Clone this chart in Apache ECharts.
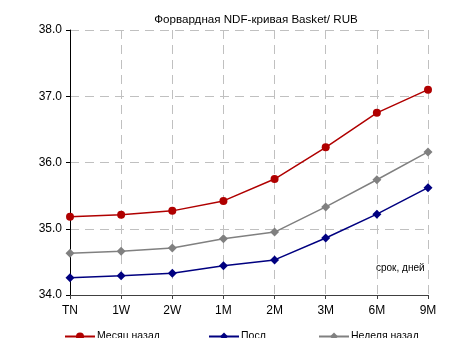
<!DOCTYPE html>
<html>
<head>
<meta charset="utf-8">
<script src="https://cdn.jsdelivr.net/npm/echarts@6/dist/echarts.min.js"></script>
<style>
  html, body { margin: 0; padding: 0; background: #fff; }
  #chart { width: 462px; height: 338px; }
</style>
</head>
<body>
<div id="chart"></div>
<script>
// Tenors along the curve
const tenors = ['TN', '1W', '2W', '1M', '2M', '3M', '6M', '9M'];

// Forward NDF quotes, Basket/RUB
const monthAgo = [35.18, 35.21, 35.27, 35.42, 35.75, 36.23, 36.75, 37.10];
const latest   = [34.26, 34.29, 34.33, 34.44, 34.53, 34.86, 35.22, 35.62];
const weekAgo  = [34.63, 34.66, 34.71, 34.85, 34.95, 35.33, 35.74, 36.16];

// Value axis ticks
const yTicks = [34, 35, 36, 37, 38];

const FONT = '"Liberation Sans", Arial, sans-serif';

const chart = echarts.init(document.getElementById('chart'), null, { renderer: 'canvas' });

function line(name, data, color, symbol, size) {
  return {
    name: name,
    type: 'line',
    data: data,
    symbol: symbol,
    symbolSize: size,
    lineStyle: { color: color, width: 1.5 },
    itemStyle: { color: color },
    emphasis: { disabled: true },
    animation: false
  };
}

function legendAt(name, left) {
  return {
    data: [name],
    left: left,
    top: 331,
    itemWidth: 30,
    itemHeight: 10,
    itemGap: 0,
    textStyle: { fontFamily: FONT, fontSize: 10.5, color: '#000', padding: [0, 0, 0, -3] },
    padding: 0,
    selectedMode: false
  };
}

chart.setOption({
  animation: false,
  title: {
    text: 'Форвардная NDF-кривая Basket/ RUB',
    left: 256,
    textAlign: 'center',
    top: 14,
    padding: 0,
    textStyle: { fontFamily: FONT, fontSize: 11.6, fontWeight: 'normal', color: '#000' }
  },
  legend: [
    legendAt('Месяц назад', 64),
    legendAt('Посл', 208),
    legendAt('Неделя назад', 318)
  ],
  grid: { left: 70, right: 34, top: 30, bottom: 43, containLabel: false },
  xAxis: {
    type: 'category',
    data: tenors,
    boundaryGap: false,
    axisLine: { lineStyle: { color: '#404040', width: 1 } },
    axisTick: { show: true, length: 4, lineStyle: { color: '#404040' } },
    axisLabel: { fontFamily: FONT, fontSize: 12, color: '#000', margin: 10 },
    splitLine: { show: true, lineStyle: { color: '#c0c0c0', type: [9, 6], width: 1 } }
  },
  yAxis: {
    type: 'value',
    min: yTicks[0],
    max: yTicks[yTicks.length - 1],
    interval: 1,
    axisLine: { show: true, lineStyle: { color: '#000', width: 1 } },
    axisTick: { show: true, length: 4, lineStyle: { color: '#000' } },
    axisLabel: {
      fontFamily: FONT, fontSize: 12, color: '#000', margin: 8,
      formatter: v => v.toFixed(1)
    },
    splitLine: { show: true, lineStyle: { color: '#c0c0c0', type: [9, 6], width: 1 } }
  },
  graphic: [{
    type: 'text',
    left: 376,
    top: 263,
    style: { text: 'срок, дней', font: '10px ' + FONT, fill: '#000' }
  }],
  series: [
    line('Месяц назад', monthAgo, '#b00000', 'circle', 8),
    line('Посл', latest, '#000080', 'diamond', 9),
    line('Неделя назад', weekAgo, '#808080', 'diamond', 9)
  ]
});
</script>
</body>
</html>
